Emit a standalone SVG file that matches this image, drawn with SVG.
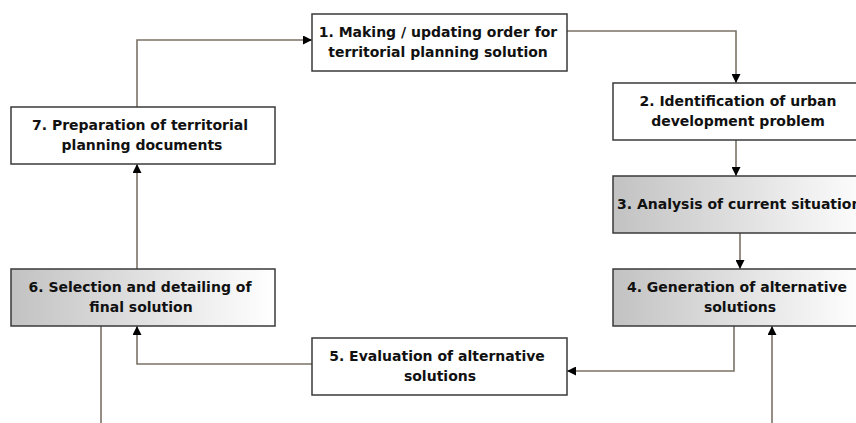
<svg xmlns="http://www.w3.org/2000/svg" width="856" height="423" viewBox="0 0 856 423">
<defs>
<linearGradient id="g" x1="0" y1="0" x2="1" y2="0">
<stop offset="0" stop-color="#c2c2c2"/>
<stop offset="1" stop-color="#ffffff"/>
</linearGradient>
<marker id="ah" viewBox="0 0 10 10" refX="10" refY="5" markerWidth="9" markerHeight="9" markerUnits="userSpaceOnUse" orient="auto">
<path d="M0,0 L10,5 L0,10 z" fill="#000"/>
</marker>
<style>
.box{fill:#fff;stroke:#3a3a3a;stroke-width:1.5}
.grad{fill:url(#g)}
.t{font-family:"DejaVu Sans",Verdana,sans-serif;font-weight:bold;font-size:14px;fill:#111;text-anchor:middle}
.c{fill:none;stroke:#7a7266;stroke-width:1.6}
.a{marker-end:url(#ah)}
</style>
</defs>
<rect width="856" height="423" fill="#fff"/>
<g id="connectors">
<path class="c a" d="M137,107 V40 H312"/>
<path class="c a" d="M567,31 H736 V83"/>
<path class="c a" d="M736,140 V176"/>
<path class="c a" d="M740,233 V269"/>
<path class="c a" d="M734,326 V371 H567"/>
<path class="c a" d="M312,364 H137 V326"/>
<path class="c a" d="M137,269 V164"/>
<path class="c" d="M101,326 V423"/>
<path class="c a" d="M772,423 V326"/>
</g>
<g id="n1">
<rect class="box" x="312" y="14" width="255" height="57"/>
<text class="t" x="438" y="37">1. Making / updating order for</text>
<text class="t" x="438" y="57">territorial planning solution</text>
</g>
<g id="n2">
<rect class="box" x="613" y="83" width="250" height="57"/>
<text class="t" x="738" y="106">2. Identification of urban</text>
<text class="t" x="738" y="126">development problem</text>
</g>
<g id="n3">
<rect class="box grad" x="613" y="176" width="260" height="57"/>
<text class="t" x="617" y="209" style="text-anchor:start">3. Analysis of current situation</text>
</g>
<g id="n4">
<rect class="box grad" x="613" y="269" width="250" height="57"/>
<text class="t" x="737" y="292">4. Generation of alternative</text>
<text class="t" x="740" y="312">solutions</text>
</g>
<g id="n5">
<rect class="box" x="312" y="338" width="255" height="57"/>
<text class="t" x="437" y="361">5. Evaluation of alternative</text>
<text class="t" x="440" y="381">solutions</text>
</g>
<g id="n6">
<rect class="box grad" x="11" y="269" width="264" height="57"/>
<text class="t" x="140" y="292">6. Selection and detailing of</text>
<text class="t" x="141" y="312">final solution</text>
</g>
<g id="n7">
<rect class="box" x="11" y="107" width="264" height="57"/>
<text class="t" x="140" y="130">7. Preparation of territorial</text>
<text class="t" x="142" y="150">planning documents</text>
</g>
</svg>
